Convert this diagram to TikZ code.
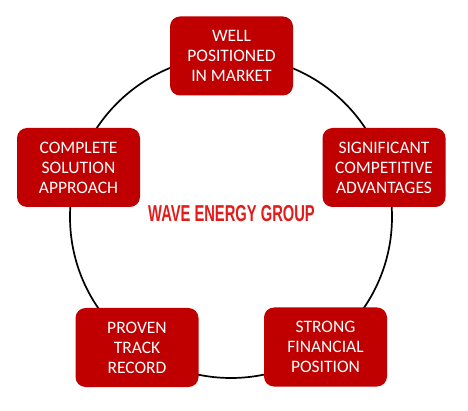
\documentclass[tikz,border=0pt]{standalone}
\usepackage{fontspec}
\setmainfont{Carlito}
\newfontfamily\titlefont{Liberation Sans}
\definecolor{boxred}{HTML}{C00000}
\definecolor{titlered}{HTML}{E21B1B}
\begin{document}
\begin{tikzpicture}[x=1pt,y=-1pt,
  pillar/.style={draw=none,fill=boxred,rounded corners=10pt,minimum width=123pt,minimum height=79pt,
    text=white,align=center,font=\fontsize{17.5}{20}\selectfont,inner sep=0pt}]
\useasboundingbox[fill=white] (0,0) rectangle (468,411);
\coordinate (c) at (231,217);
\draw[line width=1.7pt,black] (c) circle[radius=161];
\node[pillar] (top) at (231.5,56) {WELL\\POSITIONED\\IN MARKET};
\node[pillar] (left) at (78.5,167.5) {COMPLETE\\SOLUTION\\APPROACH};
\node[pillar] (right) at (384,167.5) {SIGNIFICANT\\COMPETITIVE\\ADVANTAGES};
\node[pillar] (bl) at (137,347.5) {PROVEN\\TRACK\\RECORD};
\node[pillar] (br) at (325.5,347) {STRONG\\FINANCIAL\\POSITION};
\node[text=titlered,font=\titlefont\bfseries\fontsize{23}{23}\selectfont,inner sep=0pt] (title) at (231.5,213.5) {\scalebox{0.64}[1]{WAVE ENERGY GROUP}};
\end{tikzpicture}
\end{document}
